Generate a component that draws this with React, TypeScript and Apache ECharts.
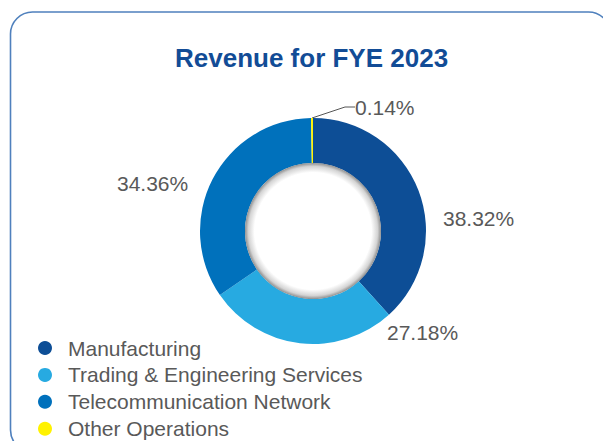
import React, { useEffect, useRef } from "react";
import * as echarts from "echarts";

const TITLE = "Revenue for FYE 2023";
const CATEGORIES = [
  "Manufacturing",
  "Trading & Engineering Services",
  "Telecommunication Network",
  "Other Operations",
];
const VALUES = [38.32, 27.18, 34.36, 0.14];
const COLORS = ["#0d4e96", "#27aae1", "#0071bc", "#fff200"];

// label anchor points (left edge, vertical middle) in chart pixels
const LABEL_POS: [number, number][] = [
  [443, 218],
  [387, 332],
  [117, 183],
  [355, 107],
];

const FONT = "'Liberation Sans', Arial, Helvetica, sans-serif";
const TEXT_COLOR = "#595959";

export default function App() {
  const ref = useRef<HTMLDivElement>(null);

  useEffect(() => {
    if (!ref.current) return;
    const chart = echarts.init(ref.current, undefined, { renderer: "svg" });
    const data = CATEGORIES.map((name, i) => ({
      name,
      value: VALUES[i],
      itemStyle: { color: COLORS[i] },
      labelLine: { show: i === 3 },
    }));
    chart.setOption({
      animation: false,
      backgroundColor: "#ffffff",
      title: {
        text: TITLE,
        left: 170,
        top: 40,
        textStyle: {
          color: "#124c96",
          fontSize: 26,
          fontWeight: "bold",
          fontFamily: FONT,
        },
      },
      graphic: [
        {
          type: "rect",
          shape: { x: 10.5, y: 12, width: 600, height: 440, r: 22 },
          style: { fill: "none", stroke: "#4f80bd", lineWidth: 1.6 },
          silent: true,
        },
      ],
      legend: {
        orient: "vertical",
        left: 38,
        top: 337.5,
        height: 120,
        padding: 0,
        icon: "circle",
        itemWidth: 36,
        itemHeight: 14,
        itemGap: 5.9,
        data: CATEGORIES,
        selectedMode: false,
        textStyle: {
          color: TEXT_COLOR,
          fontSize: 21,
          lineHeight: 20,
          fontFamily: FONT,
        },
      },
      series: [
        {
          type: "pie",
          center: [313, 231],
          radius: [68, 113],
          startAngle: 90,
          clockwise: true,
          minAngle: 1,
          avoidLabelOverlap: false,
          data,
          label: {
            show: true,
            position: "outside",
            formatter: (p: any) => p.value.toFixed(2) + "%",
            color: TEXT_COLOR,
            fontSize: 21,
            fontFamily: FONT,
          },
          labelLine: {
            show: false,
            length: 10,
            length2: 10,
            lineStyle: { color: "#555555", width: 1 },
          },
          labelLayout: (params: any) => {
            const pos = LABEL_POS[params.dataIndex];
            return {
              x: pos[0],
              y: pos[1],
              align: "left",
              verticalAlign: "middle",
            };
          },
          emphasis: { disabled: true },
        },
        {
          type: "pie",
          center: [313, 231],
          radius: [0, 68],
          silent: true,
          legendHoverLink: false,
          label: { show: false },
          labelLine: { show: false },
          emphasis: { disabled: true },
          data: [
            {
              name: "",
              value: 1,
              itemStyle: {
                color: {
                  type: "radial",
                  x: 0.5,
                  y: 0.5,
                  r: 0.5,
                  colorStops: [
                    { offset: 0, color: "#ffffff" },
                    { offset: 0.86, color: "#ffffff" },
                    { offset: 0.95, color: "#d4d4d4" },
                    { offset: 1, color: "#8f8f8f" },
                  ],
                },
              },
            },
          ],
        },
      ],
    });
    return () => chart.dispose();
  }, []);

  return (
    <div
      ref={ref}
      style={{ position: "fixed", left: 0, top: 0, width: 603, height: 441 }}
    />
  );
}
